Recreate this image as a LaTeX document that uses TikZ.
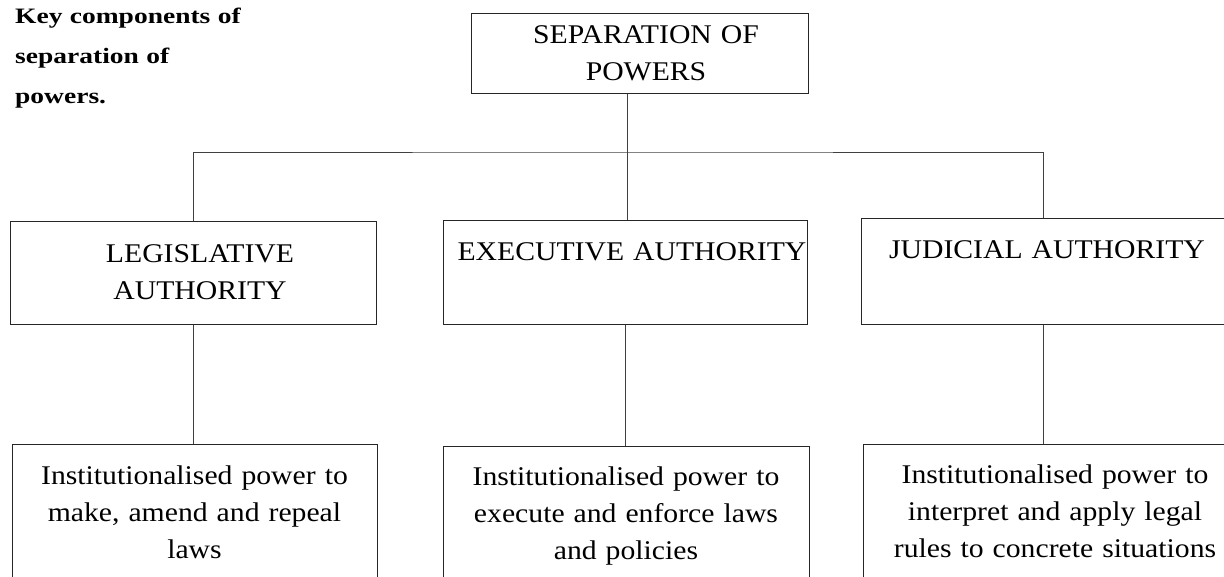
\documentclass[tikz,border=0pt]{standalone}
\usepackage{fontspec}
\setmainfont[FakeStretch=1.1]{Liberation Serif}
\newfontfamily\headfont[FakeStretch=1.25]{Liberation Serif}
\begin{document}
\begin{tikzpicture}[x=1pt,y=-1pt,
  box/.style={draw=black!85,line width=1.1pt,rectangle,inner sep=0pt,anchor=north west},
  link/.style={draw=black!75,line width=0.9pt},
  txt/.style={anchor=base,align=center,inner sep=0pt,text width=420pt,
    font=\fontsize{27}{37}\selectfont},
  head/.style={anchor=base west,align=left,inner sep=0pt,text width=300pt,
    font=\headfont\bfseries\fontsize{22}{40}\selectfont}]
\clip (0,0) rectangle (1224,576);

% caption
\node[head] (cap) at (15,23) {Key components of\\separation of\\powers.};

% boxes (the right-hand column runs off the page edge)
\node[box,minimum width=337pt,minimum height=80pt] (top) at (471,13) {};
\node[box,minimum width=366pt,minimum height=103pt] (leg) at (10,221) {};
\node[box,minimum width=364pt,minimum height=104pt] (exe) at (443,220) {};
\node[box,minimum width=380pt,minimum height=106pt] (jud) at (861,218) {};
\node[box,minimum width=365pt,minimum height=140pt] (legd) at (12,444) {};
\node[box,minimum width=366pt,minimum height=140pt] (exed) at (443,446) {};
\node[box,minimum width=380pt,minimum height=140pt] (judd) at (863,444) {};

% box texts
\node[txt] (topt) at (646,43) {SEPARATION OF\\POWERS};
\node[txt] (legt) at (200,262) {LEGISLATIVE\\AUTHORITY};
\node[txt] (exet) at (632,260) {EXECUTIVE AUTHORITY};
\node[txt] (judt) at (1047,258) {JUDICIAL AUTHORITY};
\node[txt] (legdt) at (194.5,484) {Institutionalised power to\\make, amend and repeal\\laws};
\node[txt] (exedt) at (626,485) {Institutionalised power to\\execute and enforce laws\\and policies};
\node[txt] (juddt) at (1055,483) {Institutionalised power to\\interpret and apply legal\\rules to concrete situations};

% connectors
\coordinate (bus) at (627,152);
\coordinate (jcol) at (1043,152);
\draw[link] (top.south -| bus) -- (bus);
\draw[link] (leg.north) |- (bus) -- (jcol) -- (jud.north -| jcol);
\draw[link] (exe.north -| bus) -- (bus);
\draw[link] (leg.south) -- (leg.south |- legd.north);
\draw[link] (exe.south) -- (exe.south |- exed.north);
\draw[link] (jud.south -| jcol) -- (judd.north -| jcol);
\end{tikzpicture}
\end{document}
